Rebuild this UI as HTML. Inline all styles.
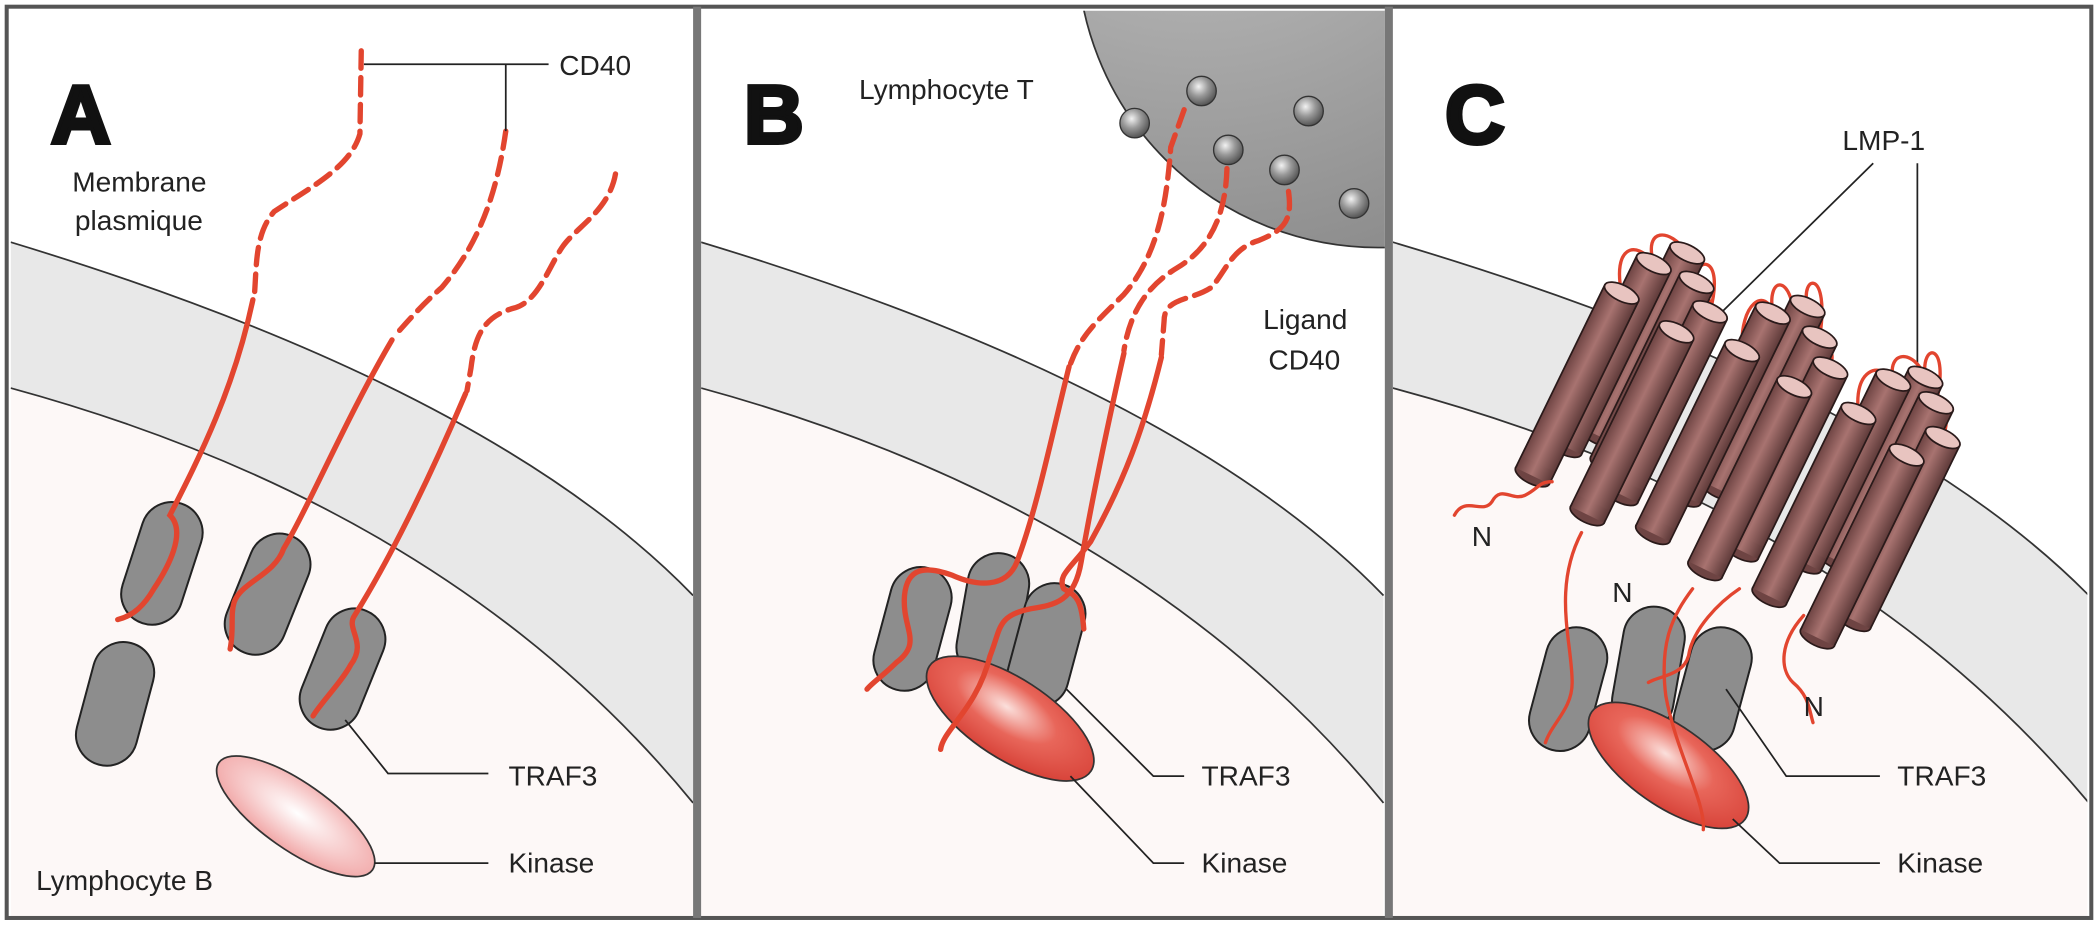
<!DOCTYPE html>
<html><head><meta charset="utf-8"><style>
html,body{margin:0;padding:0;background:#fff}
svg{display:block}
text{font-family:"Liberation Sans",sans-serif;fill:#222}
</style></head><body>
<svg width="2098" height="926" viewBox="0 0 1568 692" preserveAspectRatio="none" xmlns="http://www.w3.org/2000/svg">
<defs>
<radialGradient id="ball" cx="40%" cy="35%" r="65%"><stop offset="0" stop-color="#f2f2f2"/><stop offset=".5" stop-color="#999"/><stop offset="1" stop-color="#555"/></radialGradient>
<radialGradient id="cell" cx="20%" cy="20%" r="90%"><stop offset="0" stop-color="#c8c8c8"/><stop offset="1" stop-color="#8a8a8a"/></radialGradient>
<radialGradient id="kin" cx="45%" cy="40%" r="60%"><stop offset="0" stop-color="#fbe0dc"/><stop offset=".5" stop-color="#e8665a"/><stop offset="1" stop-color="#d8443a"/></radialGradient>
<radialGradient id="kinA" cx="50%" cy="45%" r="60%"><stop offset="0" stop-color="#fff"/><stop offset="1" stop-color="#f0a0a0"/></radialGradient>
<linearGradient id="cyl" x1="0" y1="0" x2="1" y2="0"><stop offset="0" stop-color="#6e4443"/><stop offset=".45" stop-color="#a87370"/><stop offset="1" stop-color="#5e3a39"/></linearGradient>
<g id="traf"><rect x="-23" y="-47" width="46" height="94" rx="23" fill="#8d8d8d" stroke="#222" stroke-width="1.5"/></g>
<g id="cy">
<rect x="-14" y="0" width="28" height="152" fill="url(#cyl)" stroke="#2a1a1a" stroke-width="1.3"/>
<ellipse cx="0" cy="152" rx="14" ry="6" fill="#6e4443" stroke="#2a1a1a" stroke-width="1.3"/>
<rect x="-13.3" y="142" width="26.6" height="10" fill="url(#cyl)"/>
<ellipse cx="0" cy="0" rx="14" ry="6" fill="#e8c4c0" stroke="#2a1a1a" stroke-width="1.3"/>
</g>
<g id="mem">
<path d="M0,181 Q360,290 510,445 L510,600 Q330,380 0,290Z" fill="#e8e8e8"/>
<path d="M0,290 Q330,380 510,600 L510,685 L0,685Z" fill="#fdf8f7"/>
<path d="M0,181 Q360,290 510,445 M0,290 Q330,380 510,600" fill="none" stroke="#333" stroke-width="1.3"/>
</g>
<clipPath id="cA"><rect x="8" y="8" width="510" height="677"/></clipPath>
<clipPath id="cB"><rect x="524" y="8" width="511" height="677"/></clipPath>
<clipPath id="cC"><rect x="1041" y="8" width="519" height="677"/></clipPath>
</defs>
<rect width="1568" height="692" fill="#fff"/>
<!-- membranes -->
<g clip-path="url(#cA)"><use href="#mem" transform="translate(8,0)"/></g>
<g clip-path="url(#cB)"><use href="#mem" transform="translate(524,0)"/></g>
<g clip-path="url(#cC)"><use href="#mem" transform="translate(1041,0) scale(1.02,1)"/></g>
<!-- T cell -->
<g clip-path="url(#cB)">
<circle cx="1030" cy="-40" r="225" fill="url(#cell)" stroke="#333" stroke-width="1.3"/>
</g>
<!-- frame -->
<rect x="5" y="5" width="1558" height="681" fill="none" stroke="#555" stroke-width="3"/>
<rect x="518" y="5" width="6" height="681" fill="#777"/>
<rect x="1035" y="5" width="6" height="681" fill="#777"/>

<!-- PANEL A -->
<text x="38" y="107" font-size="62" font-weight="bold" style="fill:#111" stroke="#111" stroke-width="3">A</text>
<g fill="none" stroke="#e2452f" stroke-width="4" stroke-linecap="round">
<path d="M270,38 L269,100 C262,125 232,140 205,158 C190,175 192,200 190,222" stroke-dasharray="13 7"/>
<path d="M378,98 C372,140 360,180 330,215 C315,228 305,240 294,252" stroke-dasharray="13 7"/>
<path d="M460,130 C455,158 430,170 420,185 C410,200 402,225 385,230 C362,236 355,250 352,275 L349,292" stroke-dasharray="13 7"/>
</g>
<use href="#traf" transform="translate(121,421) rotate(18)"/>
<use href="#traf" transform="translate(200,444) rotate(22)"/>
<use href="#traf" transform="translate(256,500) rotate(22)"/>
<use href="#traf" transform="translate(86,526) rotate(15)"/>
<g fill="none" stroke="#e2452f" stroke-width="4" stroke-linecap="round">
<path d="M189,224 C175,290 150,340 127,385 C140,398 125,425 115,440 C108,452 100,460 88,463"/>
<path d="M293,254 C260,310 230,380 212,410 C205,430 180,435 175,450 C172,460 175,470 172,485"/>
<path d="M348,294 C320,360 290,420 265,460 C258,470 275,480 262,497 C255,510 240,525 234,535"/>
</g>
<ellipse cx="221" cy="610" rx="70" ry="25" transform="rotate(35 221 610)" fill="url(#kinA)" stroke="#333" stroke-width="1.3"/>
<g fill="none" stroke="#222" stroke-width="1.3">
<path d="M272,48 H410 M378,48 V98"/>
<path d="M258,538 L290,578 H365"/>
<path d="M280,645 H365"/>
</g>
<text x="418" y="56" font-size="21">CD40</text>
<text x="54" y="143" font-size="21">Membrane</text>
<text x="56" y="172" font-size="21">plasmique</text>
<text x="380" y="587" font-size="21">TRAF3</text>
<text x="380" y="652" font-size="21">Kinase</text>
<text x="27" y="665" font-size="21">Lymphocyte B</text>

<!-- PANEL B -->
<text x="556" y="107" font-size="62" font-weight="bold" style="fill:#111" stroke="#111" stroke-width="3">B</text>
<text x="642" y="74" font-size="21">Lymphocyte T</text>
<text x="944" y="246" font-size="21">Ligand</text>
<text x="948" y="276" font-size="21">CD40</text>
<g>
<circle cx="848" cy="92" r="11" fill="url(#ball)" stroke="#333"/>
<circle cx="898" cy="68" r="11" fill="url(#ball)" stroke="#333"/>
<circle cx="978" cy="83" r="11" fill="url(#ball)" stroke="#333"/>
<circle cx="918" cy="112" r="11" fill="url(#ball)" stroke="#333"/>
<circle cx="960" cy="127" r="11" fill="url(#ball)" stroke="#333"/>
<circle cx="1012" cy="152" r="11" fill="url(#ball)" stroke="#333"/>
</g>
<g fill="none" stroke="#e2452f" stroke-width="4" stroke-linecap="round">
<path d="M885,82 L875,110 C872,150 866,190 840,220 C820,240 808,250 800,272" stroke-dasharray="13 7"/>
<path d="M917,126 C916,160 905,185 880,200 C860,212 845,230 840,262" stroke-dasharray="13 7"/>
<path d="M963,143 C966,165 960,172 940,180 C920,186 915,205 905,215 C890,225 870,222 870,240 L868,265" stroke-dasharray="13 7"/>
</g>
<use href="#traf" transform="translate(682,470) rotate(15)"/>
<use href="#traf" transform="translate(742,460) rotate(10)"/>
<use href="#traf" transform="translate(782,482) rotate(15)"/>
<ellipse cx="755" cy="537" rx="72" ry="30" transform="rotate(33 755 537)" fill="url(#kin)" stroke="#333" stroke-width="1.3"/>
<g fill="none" stroke="#e2452f" stroke-width="4" stroke-linecap="round">
<path d="M799,274 C785,330 775,380 760,420 C752,440 730,438 712,430 C690,422 678,425 676,445 C674,470 690,480 670,495 C660,505 652,510 648,515"/>
<path d="M840,264 C825,330 815,380 808,420 C803,450 788,452 770,455 C745,460 748,470 740,490 C730,530 705,545 703,560"/>
<path d="M868,267 C855,320 840,360 815,405 C800,425 790,430 795,440 C803,445 808,445 810,470"/>
</g>
<g fill="none" stroke="#222" stroke-width="1.3">
<path d="M797,515 L862,580 H885"/>
<path d="M800,580 L862,645 H885"/>
</g>
<text x="898" y="587" font-size="21">TRAF3</text>
<text x="898" y="652" font-size="21">Kinase</text>

<!-- PANEL C -->
<text x="1080" y="107" font-size="62" font-weight="bold" style="fill:#111" stroke="#111" stroke-width="3">C</text>
<text x="1377" y="112" font-size="21">LMP-1</text>
<g fill="none" stroke="#222" stroke-width="1.3">
<path d="M1400,122 L1285,235"/>
<path d="M1433,122 V283"/>
</g>
<g>
<path d="M1236,197 C1228,170 1248,170 1261,189 M1212,219 C1205,185 1222,178 1236,197 M1268,211 C1265,192 1290,188 1278,233 M1253,248 C1262,200 1280,215 1278,233" fill="none" stroke="#e2452f" stroke-width="2.5"/>
<use href="#cy" transform="translate(1261,189) rotate(26)"/>
<use href="#cy" transform="translate(1236,197) rotate(26)"/>
<use href="#cy" transform="translate(1268,211) rotate(26)"/>
<use href="#cy" transform="translate(1212,219) rotate(26)"/>
<use href="#cy" transform="translate(1278,233) rotate(26)"/>
<use href="#cy" transform="translate(1253,248) rotate(26)"/>
<path d="M1351,229 C1345,205 1368,200 1360,252 M1325,234 C1320,205 1340,205 1341,240 M1302,262 C1300,225 1320,215 1325,234 M1341,289 C1350,250 1375,250 1368,275" fill="none" stroke="#e2452f" stroke-width="2.5"/>
<use href="#cy" transform="translate(1351,229) rotate(26)"/>
<use href="#cy" transform="translate(1325,234) rotate(26)"/>
<use href="#cy" transform="translate(1360,252) rotate(26)"/>
<use href="#cy" transform="translate(1302,262) rotate(26)"/>
<use href="#cy" transform="translate(1368,275) rotate(26)"/>
<use href="#cy" transform="translate(1341,289) rotate(26)"/>
<path d="M1439,282 C1435,255 1458,255 1447,301 M1415,284 C1410,262 1430,260 1439,282 M1389,309 C1385,275 1405,270 1415,284 M1425,340 C1440,300 1462,300 1452,327" fill="none" stroke="#e2452f" stroke-width="2.5"/>
<use href="#cy" transform="translate(1439,282) rotate(26)"/>
<use href="#cy" transform="translate(1415,284) rotate(26)"/>
<use href="#cy" transform="translate(1447,301) rotate(26)"/>
<use href="#cy" transform="translate(1389,309) rotate(26)"/>
<use href="#cy" transform="translate(1452,327) rotate(26)"/>
<use href="#cy" transform="translate(1425,340) rotate(26)"/>
</g>
<use href="#traf" transform="translate(1172,515) rotate(15)"/>
<use href="#traf" transform="translate(1232,500) rotate(10)"/>
<use href="#traf" transform="translate(1280,515) rotate(15)"/>
<ellipse cx="1247" cy="572" rx="70" ry="30" transform="rotate(35 1247 572)" fill="url(#kin)" stroke="#333" stroke-width="1.3"/>
<g fill="none" stroke="#e2452f" stroke-width="2.5" stroke-linecap="round">
<path d="M1087,385 C1095,370 1108,385 1115,375 C1122,362 1130,375 1140,370 C1150,365 1150,360 1160,360"/>
<path d="M1182,398 C1160,440 1175,480 1175,510 C1175,530 1160,540 1155,555"/>
<path d="M1265,440 C1250,460 1240,480 1245,520 C1252,560 1275,600 1273,620"/>
<path d="M1300,440 C1285,450 1265,470 1262,490 C1258,505 1240,505 1232,510"/>
<path d="M1348,460 C1330,480 1330,500 1340,510 C1352,520 1352,530 1355,540"/>
</g>
<g fill="none" stroke="#222" stroke-width="1.3">
<path d="M1290,515 L1335,580 H1405"/>
<path d="M1295,612 L1330,645 H1405"/>
</g>
<text x="1100" y="408" font-size="21">N</text>
<text x="1205" y="450" font-size="21">N</text>
<text x="1348" y="535" font-size="21">N</text>
<text x="1418" y="587" font-size="21">TRAF3</text>
<text x="1418" y="652" font-size="21">Kinase</text>
</svg>
</body></html>
